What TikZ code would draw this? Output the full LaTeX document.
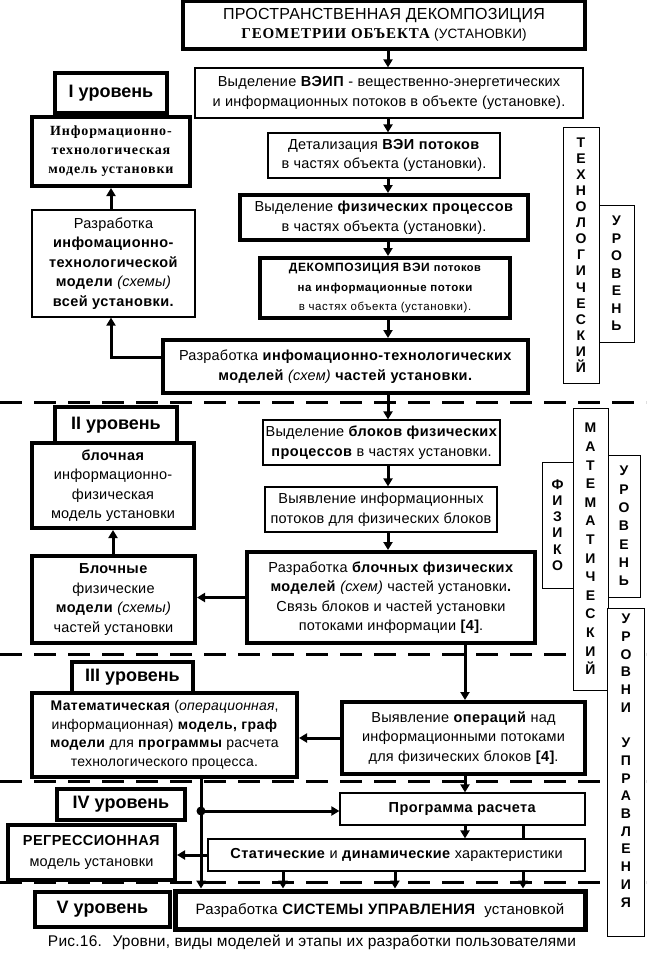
\documentclass[tikz,border=0pt]{standalone}
\usepackage{fontspec}
\setmainfont{Liberation Sans}[LetterSpace=1.5, BoldFeatures={LetterSpace=3}]
\newfontfamily\serifbf{Liberation Serif}
\newfontfamily\serifsp[LetterSpace=6]{Liberation Serif}
\newfontfamily\sanssp[LetterSpace=5]{Liberation Sans}
\newfontfamily\vfont{Liberation Sans}
\usetikzlibrary{arrows.meta}
\tikzset{
  base/.style={inner sep=0pt, align=center, fill=white, font=\fontsize{14.5}{19.5}\selectfont},
  thinbox/.style={base, draw, line width=1.2pt},
  thickbox/.style={base, draw, line width=4pt},
  levbox/.style={base, draw, line width=4.5pt, font=\vfont\bfseries\fontsize{18}{20}\selectfont},
  vbox/.style={base, draw, line width=1pt},
  arr/.style={line width=3pt, -{Triangle[length=8pt,width=9pt]}},
  conn/.style={line width=3pt},
  sep/.style={line width=3pt, dash pattern=on 22pt off 12pt},
}
\begin{document}
\begin{tikzpicture}[x=1pt,y=-1pt]
\fill[white] (0,0) rectangle (646,956);
\useasboundingbox (0,0) rectangle (646,956);
% separators
\draw[sep] (0,402) -- (646,402);
\draw[sep] (0,654) -- (646,654);
\draw[sep] (0,781) -- (646,781);
\draw[sep] (0,882) -- (646,882);

% central column
\node[thickbox, minimum width=402pt, minimum height=48pt] (top) at (384,25)
 {{\fontsize{16}{18}\selectfont ПРОСТРАНСТВЕННАЯ ДЕКОМПОЗИЦИЯ}\\
  {\serifsp\bfseries\fontsize{15}{18}\selectfont ГЕОМЕТРИИ ОБЪЕКТА} {\fontsize{13.5}{18}\selectfont (УСТАНОВКИ)}};
\node[thinbox, minimum width=388pt, minimum height=50pt] (box2) at (389,93)
 {Выделение \textbf{ВЭИП} - вещественно-энергетических\\ и информационных потоков в объекте (установке).};
\node[thinbox, minimum width=232pt, minimum height=45pt] (box3) at (384,155.5)
 {Детализация \textbf{ВЭИ потоков}\\ в частях объекта (установки).};
\node[thickbox, minimum width=288pt, minimum height=45pt] (box4) at (384,217.5)
 {Выделение \textbf{физических процессов}\\ в частях объекта (установки).};
\node[thickbox, minimum width=250pt, minimum height=60pt] (box5) at (385,288)
 {{\sanssp\bfseries\fontsize{12}{16}\selectfont ДЕКОМПОЗИЦИЯ ВЭИ {\fontsize{11}{16}\selectfont потоков}}\\
  {\sanssp\bfseries\fontsize{11.5}{16}\selectfont на информационные потоки}\\
  {\sanssp\fontsize{11.5}{16}\selectfont в частях объекта (установки).}};
\node[thickbox, minimum width=365pt, minimum height=53pt] (box6) at (345.5,366.5)
 {Разработка \textbf{инфомационно-технологических}\\ \textbf{моделей} \textit{(схем)} \textbf{частей установки.}};

% level I left
\node[levbox, minimum width=112pt, minimum height=40pt] (lev1) at (111,93) {I уровень};
\node[thickbox, minimum width=158pt, minimum height=69pt, font=\serifsp\bfseries\fontsize{14}{19}\selectfont] (infotech) at (111,151.5)
 {Информационно-\\технологическая\\модель установки};
\node[thinbox, minimum width=163pt, minimum height=107pt, font=\fontsize{14.5}{19.5}\selectfont] (razr) at (113.5,263.5)
 {Разработка\\ \textbf{инфомационно-}\\ \textbf{технологической}\\ \textbf{модели} \textit{(схемы)}\\ \textbf{всей установки.}};

% vertical labels
\node[vbox, minimum width=36pt, minimum height=256pt, font=\vfont\bfseries\fontsize{14}{16.1}\selectfont] (tech) at (581,255)
 {Т\\Е\\Х\\Н\\О\\Л\\О\\Г\\И\\Ч\\Е\\С\\К\\И\\Й};
\node[vbox, minimum width=35pt, minimum height=137pt, font=\vfont\bfseries\fontsize{14}{17.5}\selectfont] (ur1) at (616.5,273.5)
 {У\\Р\\О\\В\\Е\\Н\\Ь};

% level II
\node[levbox, minimum width=122pt, minimum height=36pt] (lev2) at (116,425) {II уровень};
\node[thickbox, minimum width=162pt, minimum height=85pt] (blochnaya) at (113,485.5)
 {\textbf{блочная}\\ информационно-\\ физическая\\ модель установки};
\node[thickbox, minimum width=163pt, minimum height=87pt] (blochnye) at (113.5,599.5)
 {\textbf{Блочные}\\ физические\\ \textbf{модели} \textit{(схемы)}\\ частей установки};
\node[thinbox, minimum width=237pt, minimum height=45pt] (box7) at (381.5,442.5)
 {Выделение \textbf{блоков физических}\\ \textbf{процессов} в частях установки.};
\node[thinbox, minimum width=232pt, minimum height=45pt] (box8) at (381,509.5)
 {Выявление информационных\\ потоков для физических блоков};
\node[thickbox, minimum width=288pt, minimum height=91pt] (box9) at (391,597.5)
 {Разработка \textbf{блочных физических}\\ \textbf{моделей} \textit{(схем)} частей установки\textbf{.}\\ Связь блоков и частей установки\\ потоками информации \textbf{[4]}.};

\node[vbox, minimum width=31pt, minimum height=126pt, font=\vfont\bfseries\fontsize{14}{16.3}\selectfont] (fiziko) at (557.5,525)
 {Ф\\И\\З\\И\\К\\О};
\node[vbox, minimum width=35pt, minimum height=282pt, font=\vfont\bfseries\fontsize{14}{18.6}\selectfont] (matem) at (590.5,549)
 {М\\А\\Т\\Е\\М\\А\\Т\\И\\Ч\\Е\\С\\К\\И\\Й};
\node[vbox, minimum width=32pt, minimum height=142pt, font=\vfont\bfseries\fontsize{14}{18.3}\selectfont] (ur2) at (624,526)
 {У\\Р\\О\\В\\Е\\Н\\Ь};
\node[vbox, minimum width=37pt, minimum height=328pt] (upr) at (626,772) {};
\node[anchor=north, inner sep=0pt, align=center, font=\vfont\bfseries\fontsize{14}{17.7}\selectfont] (uprtxt) at (626,614)
 {У\\Р\\О\\В\\Н\\И\\ \\У\\П\\Р\\А\\В\\Л\\Е\\Н\\И\\Я};

% level III
\node[levbox, minimum width=121pt, minimum height=31pt] (lev3) at (132.5,677.5) {III уровень};
\node[thickbox, minimum width=265pt, minimum height=84pt, font=\fontsize{14}{18.5}\selectfont] (matmodel) at (164.5,735)
 {\textbf{Математическая} (\textit{операционная},\\ информационная) \textbf{модель, граф}\\ \textbf{модели} для \textbf{программы} расчета\\ технологического процесса.};
\node[thickbox, minimum width=243pt, minimum height=72pt] (box10) at (463.5,738)
 {Выявление \textbf{операций} над\\ информационными потоками\\ для физических блоков \textbf{[4]}.};

% level IV
\node[levbox, minimum width=128pt, minimum height=31pt] (lev4) at (121,804.5) {IV уровень};
\node[thickbox, minimum width=167pt, minimum height=55pt, font=\fontsize{14.5}{21}\selectfont] (regr) at (91.5,852.5)
 {\textbf{РЕГРЕССИОННАЯ}\\ модель установки};
\node[thinbox, minimum width=245pt, minimum height=32pt] (prog) at (462.5,809) {\textbf{Программа расчета}};
\node[thinbox, minimum width=377pt, minimum height=32pt] (stat) at (396.5,855)
 {\textbf{Статические} и \textbf{динамические} характеристики};

% level V
\node[levbox, minimum width=135pt, minimum height=35pt] (lev5) at (102.5,909.5) {V уровень};
\node[base, draw, line width=5pt, minimum width=410pt, minimum height=38pt, font=\fontsize{15}{19}\selectfont] (sist) at (380,910)
 {Разработка \textbf{СИСТЕМЫ УПРАВЛЕНИЯ}~ установкой};
\node[inner sep=0pt, font=\fontsize{15.5}{17}\selectfont] (cap) at (312,942)
 {Рис.16.~ Уровни, виды моделей и этапы их разработки пользователями};

% connectors
\coordinate (c1) at (388,0);
\coordinate (c2) at (465,0);
\coordinate (c3) at (201,0);
\coordinate (c4) at (523,0);
\coordinate (c5) at (283,0);
\coordinate (c6) at (395,0);
\coordinate (jn) at (201,811);
\draw[arr] (top.south -| c1) -- (box2.north -| c1);
\draw[arr] (box2.south -| c1) -- (box3.north -| c1);
\draw[arr] (box3.south -| c1) -- (box4.north -| c1);
\draw[arr] (box4.south -| c1) -- (box5.north -| c1);
\draw[arr] (box5.south -| c1) -- (box6.north -| c1);
\draw[arr] ([yshift=9pt]box6.west) -| (razr.south -| infotech.south);
\draw[arr] (razr.north -| infotech.south) -- (infotech.south);
\draw[arr] (box6.south -| c1) -- (box7.north -| c1);
\draw[arr] (box7.south -| c1) -- (box8.north -| c1);
\draw[arr] (box8.south -| c1) -- (box9.north -| c1);
\draw[arr] (box9.west) -- (box9.west -| blochnye.east);
\draw[arr] (blochnye.north -| blochnaya.south) -- (blochnaya.south);
\draw[arr] (box9.south -| c2) -- (box10.north -| c2);
\draw[arr] (box10.west) -- (box10.west -| matmodel.east);
\draw[arr] (box10.south -| c2) -- (prog.north -| c2);
\draw[arr] (matmodel.south -| c3) -- (sist.north -| c3);
\fill (jn) circle (4.5pt);
\draw[arr] (jn) -- (jn -| prog.west);
\draw[arr] (stat.west) -- (stat.west -| regr.east);
\draw[arr] (prog.south -| c2) -- (stat.north -| c2);
\draw[conn] (prog.south -| c4) -- (stat.north -| c4);
\draw[arr] (stat.south -| c5) -- (sist.north -| c5);
\draw[arr] (stat.south -| c6) -- (sist.north -| c6);
\draw[arr] (stat.south -| c4) -- (sist.north -| c4);
\end{tikzpicture}
\end{document}
